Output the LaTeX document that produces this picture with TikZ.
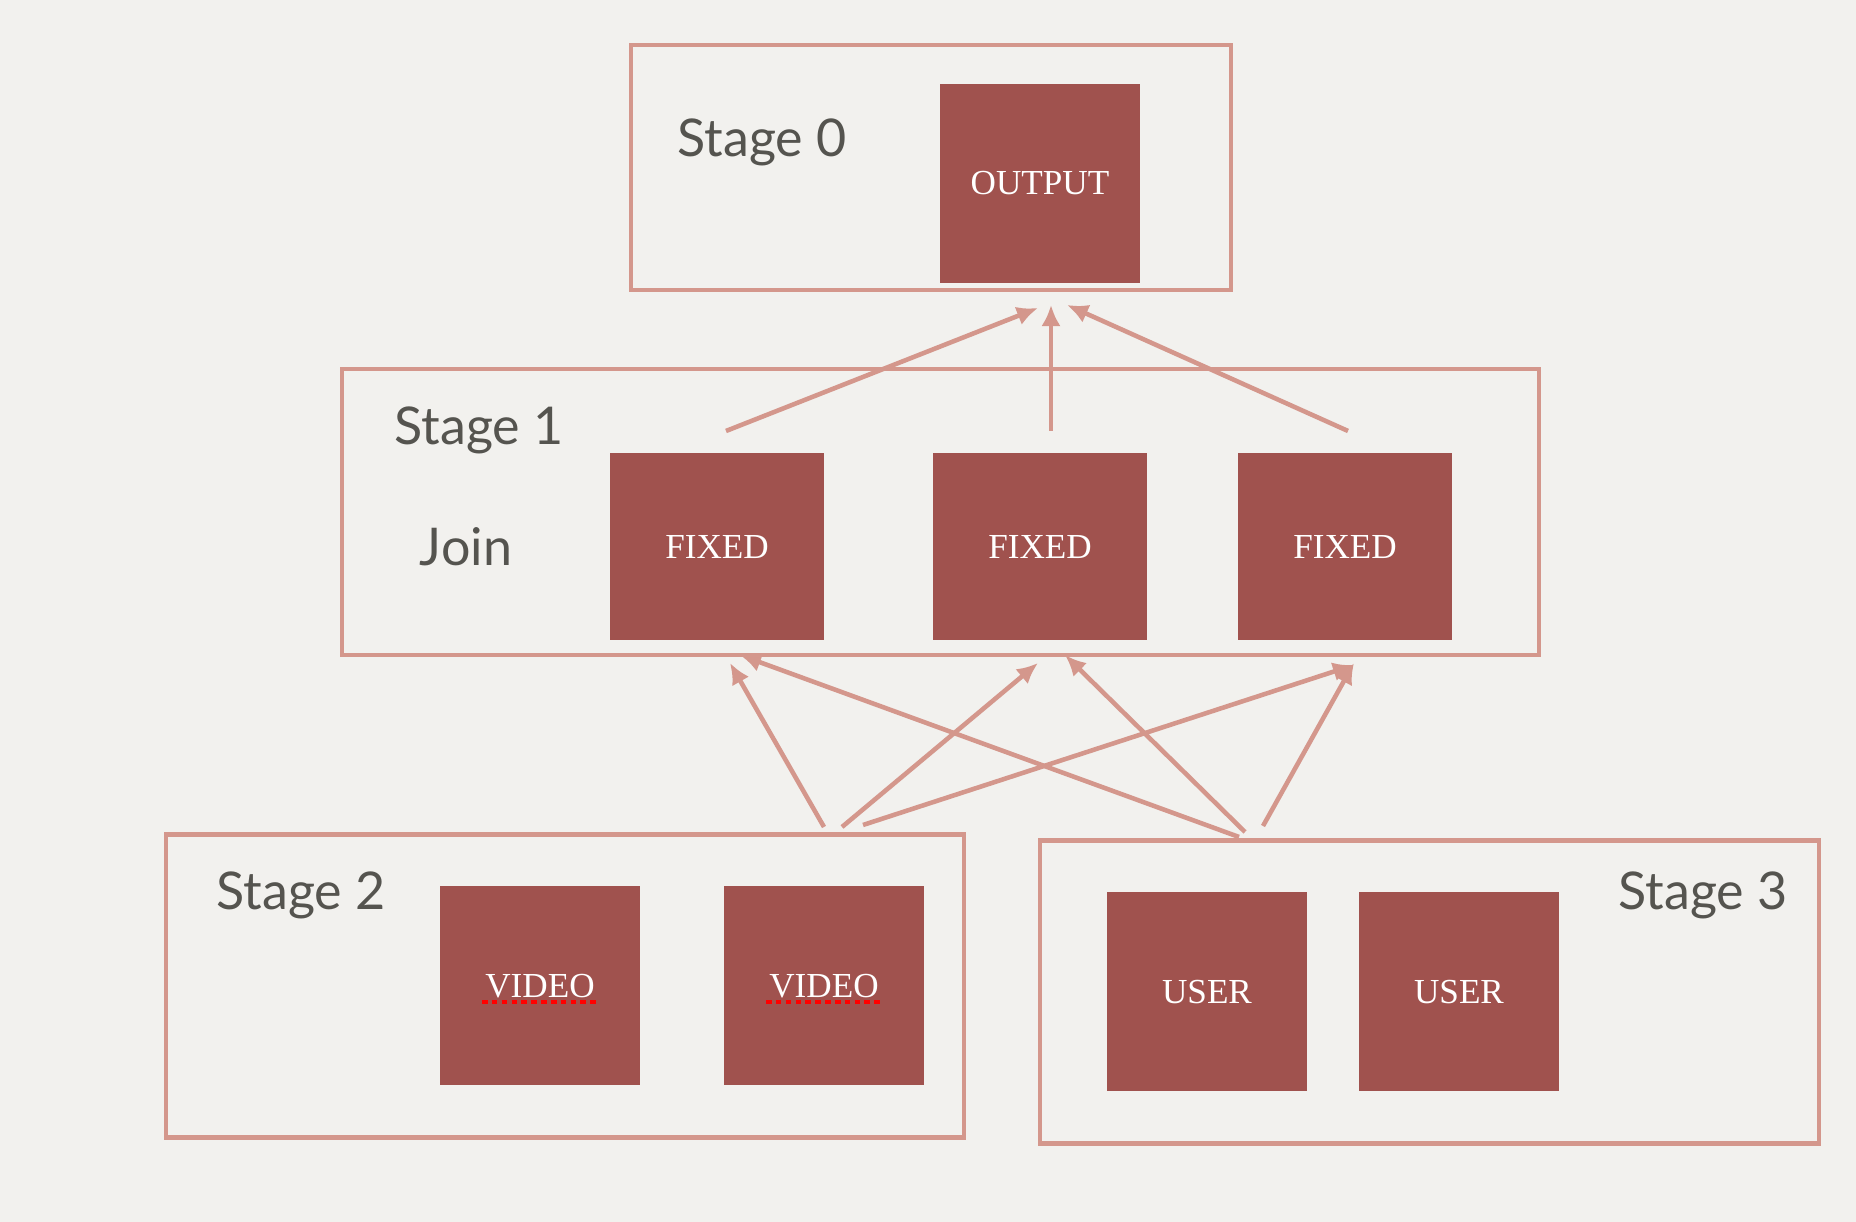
\documentclass[tikz,border=0pt]{standalone}
\usepackage{fontspec}
\setmainfont{Liberation Serif}
\newfontfamily\stagefont{Lato}
\usetikzlibrary{arrows.meta}
\definecolor{paper}{HTML}{F2F1EE}
\definecolor{frame}{HTML}{D4978C}
\definecolor{brick}{HTML}{A0524E}
\definecolor{slate}{HTML}{55544F}
\begin{document}
\begin{tikzpicture}[line width=1.2pt,
   frame_style/.style={draw=frame, line width=1.2pt, rectangle, inner sep=0pt, outer sep=0pt},
   box_style/.style={fill=brick, rectangle, inner sep=0pt, outer sep=0pt, minimum width=2cm, minimum height=1.99cm, text=white, font=\fontsize{10}{12}\selectfont},
   label_style/.style={text=slate, font=\stagefont\fontsize{14.8}{18}\selectfont, inner sep=0pt},
   edge_style/.style={draw=frame, line width=1.3pt, -{Latex[length=6pt,width=5.5pt]}}]
	  \fill [paper] (0,0) rectangle (18.56,12.22);
	  \useasboundingbox (0,0) rectangle (18.56,12.22);

	  % stage frames
	  \node [frame_style, minimum width=6cm, minimum height=2.45cm] (g0) at (9.31,10.545) {};
	  \node [frame_style, minimum width=11.97cm, minimum height=2.86cm] (g1) at (9.405,7.10) {};
	  \node [frame_style, minimum width=7.98cm, minimum height=3.03cm] (g2) at (5.65,2.36) {};
	  \node [frame_style, minimum width=7.79cm, minimum height=3.03cm] (g3) at (14.295,2.30) {};

	  \node [label_style] (l0) at (7.62,10.80) {Stage 0};
	  \node [label_style] (l1) at (4.79,7.92) {Stage 1};
	  \node [label_style] (j1) at (4.66,6.75) {Join};
	  \node [label_style] (l2) at (3.01,3.27) {Stage 2};
	  \node [label_style] (l3) at (17.03,3.27) {Stage 3};

	  % boxes
	  \node [box_style] (o1) at (10.40,10.385) {OUTPUT};
	  \node [box_style, minimum width=2.14cm, minimum height=1.87cm] (f1) at (7.17,6.75) {FIXED};
	  \node [box_style, minimum width=2.14cm, minimum height=1.87cm] (f2) at (10.40,6.75) {FIXED};
	  \node [box_style, minimum width=2.14cm, minimum height=1.87cm] (f3) at (13.45,6.75) {FIXED};
	  \node [box_style] (v1) at (5.40,2.36) {VIDEO};
	  \node [box_style] (v2) at (8.24,2.36) {VIDEO};
	  \node [box_style] (u1) at (12.07,2.30) {USER};
	  \node [box_style] (u2) at (14.59,2.30) {USER};

	  % spell-check marks
	  \foreach \word in {v1, v2}
	    \draw [red, line width=1.3pt, dash pattern=on 1.6pt off 1.2pt] ([shift={(-0.58,-0.16)}]\word.center) -- ([shift={(0.58,-0.16)}]\word.center);

	  % arrow ends
	  \coordinate (t1) at (7.26,7.91);   \coordinate (h1) at (10.38,9.14);
	  \coordinate (t2) at (10.51,7.91);  \coordinate (h2) at (10.51,9.17);
	  \coordinate (t3) at (13.48,7.91);  \coordinate (h3) at (10.67,9.17);
	  \coordinate (a1) at (8.24,3.95);   \coordinate (k1) at (7.30,5.59);
	  \coordinate (a2) at (8.42,3.95);   \coordinate (k2) at (10.38,5.59);
	  \coordinate (a3) at (8.63,3.97);   \coordinate (k3) at (13.54,5.57);
	  \coordinate (b1) at (12.39,3.85);  \coordinate (m1) at (7.40,5.67);
	  \coordinate (b2) at (12.45,3.90);  \coordinate (m2) at (10.65,5.67);
	  \coordinate (b3) at (12.63,3.96);  \coordinate (m3) at (13.54,5.59);

	  \foreach \from/\to in {t1/h1, t2/h2, t3/h3, a1/k1, a2/k2, a3/k3, b1/m1, b2/m2, b3/m3}
	    \draw [edge_style] (\from) -- (\to);

	\end{tikzpicture}
\end{document}
